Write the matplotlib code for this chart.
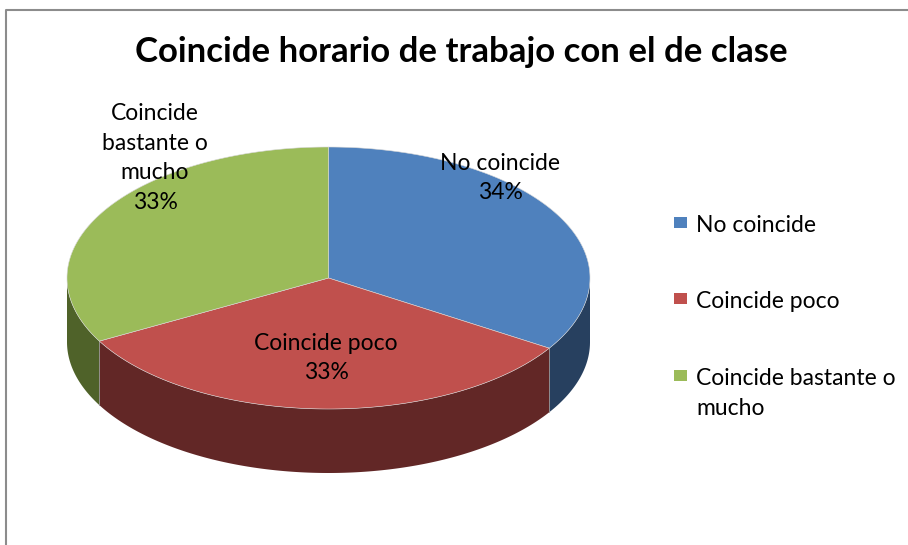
import numpy as np
import matplotlib
matplotlib.use("Agg")
import matplotlib.pyplot as plt
from matplotlib.patches import Polygon, Rectangle

plt.rcParams["font.family"] = ["Lato", "DejaVu Sans"]

# data
categories = ["No coincide", "Coincide poco", "Coincide bastante o mucho"]
values = [34, 33, 33]
slice_labels = ["No coincide", "Coincide poco", "Coincide\nbastante o\nmucho"]
legend_labels = ["No coincide", "Coincide poco", "Coincide bastante o\nmucho"]
title = "Coincide horario de trabajo con el de clase"

top_colors = ["#4F81BD", "#C0504D", "#9BBB59"]
side_colors = ["#27405F", "#622726", "#4F6229"]

W, H = 908, 545
fig = plt.figure(figsize=(W / 100, H / 100), dpi=100)
ax = fig.add_axes([0, 0, 1, 1])
ax.set_xlim(0, W)
ax.set_ylim(H, 0)
ax.axis("off")

# chart border (only top/left edges visible in the crop)
ax.plot([6, 6, W + 5], [H + 5, 10, 10], color="#8c8c8c", lw=1.5)

# pie geometry (pixels)
cx, cy, rx, ry, depth = 328.5, 278, 261.5, 131, 64

total = float(sum(values))
angles = [90.0]
for v in values:
    angles.append(angles[-1] - 360.0 * v / total)


def pt(t, dy=0.0):
    r = np.radians(t)
    return cx + rx * np.cos(r), cy - ry * np.sin(r) + dy


# side walls first (front half, sin < 0)
for i in range(len(values)):
    a0, a1 = angles[i], angles[i + 1]
    ts = np.linspace(a0, a1, 400)
    front = np.sin(np.radians(ts)) < 0
    if not front.any():
        continue
    ts = ts[front]
    top = [pt(t) for t in ts]
    bot = [pt(t, depth) for t in ts[::-1]]
    ax.add_patch(Polygon(top + bot, closed=True, facecolor=side_colors[i],
                         edgecolor="none", zorder=2))
    # slice boundary edge on the side wall
    for t in (a0, a1):
        if np.sin(np.radians(t)) < 0:
            x0, y0 = pt(t)
            ax.plot([x0, x0], [y0, y0 + depth], color="#9a9a9a", lw=0.6,
                    alpha=0.6, zorder=3)

# top faces
for i in range(len(values)):
    ts = np.linspace(angles[i], angles[i + 1], 400)
    poly = [(cx, cy)] + [pt(t) for t in ts]
    ax.add_patch(Polygon(poly, closed=True, facecolor=top_colors[i],
                         edgecolor="#d8d8d8", lw=0.4, zorder=4))

# data labels
label_pos = [(500, 178), (326, 358), (155, 158)]
for i, (x, y) in enumerate(label_pos):
    ax.text(x, y, f"{slice_labels[i]}\n{values[i]}%", ha="center", va="center",
            fontsize=16.5, linespacing=1.5, color="black", zorder=6)

# title
ax.text(461, 52, title, ha="center", va="center", fontsize=25,
        fontweight="bold", color="black")

# legend
leg_y = [224, 300, 377]
for i, y in enumerate(leg_y):
    ax.add_patch(Rectangle((674, y - 7), 13, 11, facecolor=top_colors[i],
                           edgecolor="none"))
    ax.text(696, y - 9, legend_labels[i], ha="left", va="top",
            fontsize=16.5, linespacing=1.55, color="black")

fig.savefig("out.png", dpi=100)
